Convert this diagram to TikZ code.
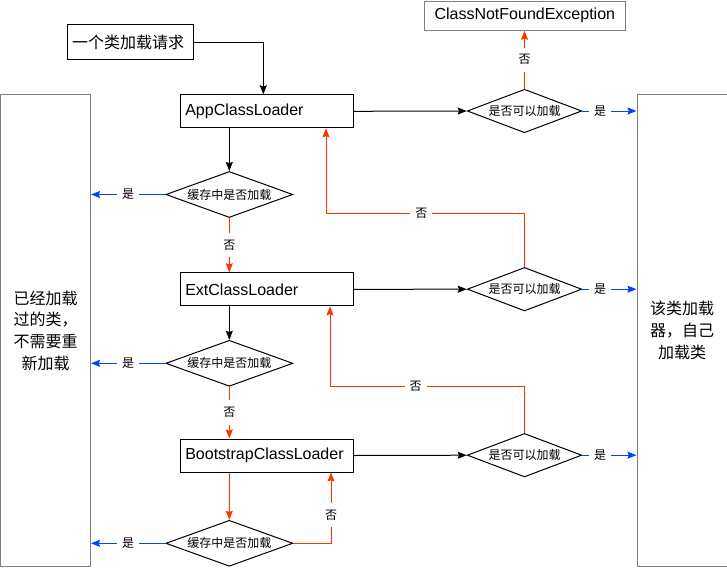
\documentclass[tikz,border=0pt]{standalone}
\usepackage{fontspec}
\setmainfont{Liberation Sans}
\newfontfamily\cjk{Noto Sans CJK SC}
\usetikzlibrary{shapes.geometric,arrows.meta}
\definecolor{nored}{RGB}{255,51,0}
\definecolor{yesblue}{RGB}{0,68,255}
\definecolor{framegray}{RGB}{128,128,128}
\tikzset{
  every path/.style={line width=1pt},
  loader/.style={draw, line width=1pt, minimum height=33pt, text width=163pt, inner xsep=5pt, align=left, font=\fontsize{16}{19}\selectfont},
  request/.style={draw, line width=1pt, minimum height=35pt, text width=116pt, inner xsep=5pt, align=left, font=\cjk\fontsize{16}{19}\selectfont},
  grayframe/.style={draw=framegray, line width=1pt, minimum width=201pt, minimum height=29pt, font=\fontsize{16}{19}\selectfont},
  side/.style={draw=framegray, line width=1pt, minimum width=90pt, minimum height=471pt, align=center, font=\cjk\fontsize{16}{21.7}\selectfont},
  cache/.style={diamond, draw, line width=1pt, aspect=2.75, inner sep=1pt, minimum width=127pt, minimum height=46pt, font=\cjk\fontsize{12}{14}\selectfont},
  canload/.style={diamond, draw, line width=1pt, aspect=2.63, inner sep=1pt, minimum width=114.5pt, minimum height=43.5pt, font=\cjk\fontsize{12}{14}\selectfont},
  lbl/.style={fill=white, text=black, inner xsep=5pt, inner ysep=7pt, font=\cjk\fontsize{12}{14}\selectfont},
  arr/.style={-{Stealth[length=9pt,width=7pt,inset=1.2pt]}},
  yesline/.style={arr, yesblue},
  noline/.style={arr, nored}
}
\begin{document}
\begin{tikzpicture}[x=1pt,y=-1pt]
\useasboundingbox (0,0) rectangle (727,567);

% loaders and boxes
\node[request] (req) at (130,42.5) {一个类加载请求};
\node[loader] (app) at (266.8,111.3) {AppClassLoader};
\node[loader] (ext) at (266.8,289.3) {ExtClassLoader};
\node[loader] (boot) at (266.8,455.5) {BootstrapClassLoader};
\node[side] (cached) at (45.5,330.5) {已经加载\\过的类，\\不需要重\\新加载};
\node[side] (self) at (682,330.5) {该类加载\\器，自己\\加载类};
\node[grayframe] (cnf) at (524.8,15.8) {ClassNotFoundException};

% decisions
\node[cache] (c1) at (229.3,194.5) {缓存中是否加载};
\node[cache] (c2) at (229.3,363.3) {缓存中是否加载};
\node[cache] (c3) at (229.3,543.3) {缓存中是否加载};
\node[canload] (l1) at (524.5,111) {是否可以加载};
\node[canload] (l2) at (524.5,289.2) {是否可以加载};
\node[canload] (l3) at (524.5,455.2) {是否可以加载};

\coordinate (back1) at (326,213);
\coordinate (back2) at (330,386);
\coordinate (back3) at (331,0);

% delegate upwards
\draw[arr] (req.east) -| ([xshift=-3.5pt]app.north);
\draw[arr] (app.south -| c1.north) -- (c1.north);
\draw[yesline] (c1.west) -- node[lbl]{是} (c1.west -| cached.east);
\draw[noline] (c1.south) -- node[lbl]{否} (c1.south |- ext.north);
\draw[arr] (ext.south -| c2.north) -- (c2.north);
\draw[yesline] (c2.west) -- node[lbl]{是} (c2.west -| cached.east);
\draw[noline] (c2.south) -- node[lbl]{否} (c2.south |- boot.north);
\draw[noline] (boot.south -| c3.north) -- (c3.north);
\draw[yesline] (c3.west) -- node[lbl]{是} (c3.west -| cached.east);
\draw[noline] (c3.east) -| node[lbl,pos=0.7]{否} (boot.south -| back3);

% try to load
\draw[arr] (boot.east) -- (l3.west);
\draw[yesline] (l3.east) -- node[lbl,pos=0.33]{是} (l3.east -| self.west);
\draw[noline] (l3.north) |- node[lbl,pos=0.78]{否} (back2) -- (back2 |- ext.south);
\draw[arr] (ext.east) -- (l2.west);
\draw[yesline] (l2.east) -- node[lbl,pos=0.33]{是} (l2.east -| self.west);
\draw[noline] (l2.north) |- node[lbl,pos=0.76]{否} (back1) -- (back1 |- app.south);
\draw[arr] (app.east) -- (l1.west);
\draw[yesline] (l1.east) -- node[lbl,pos=0.33]{是} (l1.east -| self.west);
\draw[noline] (l1.north) -- node[lbl]{否} (l1.north |- cnf.south);

\end{tikzpicture}
\end{document}
